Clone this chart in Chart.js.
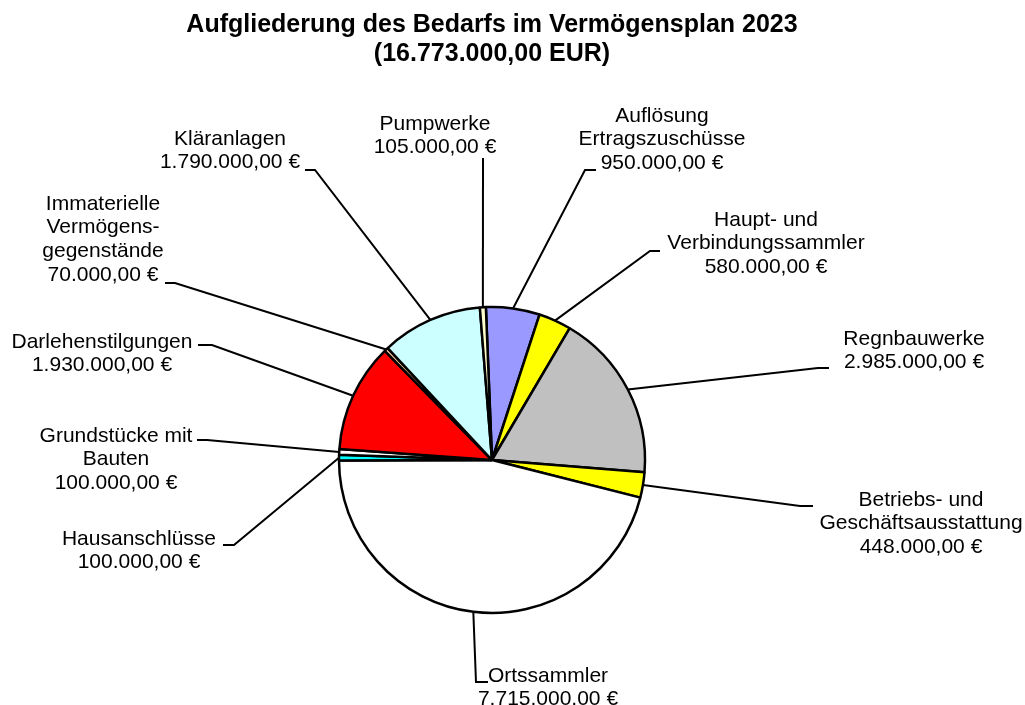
<!DOCTYPE html>
<html>
<head>
<meta charset="utf-8">
<script src="https://cdn.jsdelivr.net/npm/chart.js@4.4.0/dist/chart.umd.min.js"></script>
<style>
  html, body { margin: 0; padding: 0; background: #fff; }
</style>
</head>
<body>
<canvas id="pieChart" width="1025" height="705"></canvas>
<script>
// data, in slice order (clockwise from the top)
let categories = [
  "Auflösung\nErtragszuschüsse",
  "Haupt- und\nVerbindungssammler",
  "Regnbauwerke",
  "Betriebs- und\nGeschäftsausstattung",
  "Ortssammler",
  "Hausanschlüsse",
  "Grundstücke mit\nBauten",
  "Darlehenstilgungen",
  "Immaterielle\nVermögens-\ngegenstände",
  "Kläranlagen",
  "Pumpwerke"
];
let amounts = [950000, 580000, 2985000, 448000, 7715000, 100000, 100000, 1930000, 70000, 1790000, 105000];
let sliceColors = ["#9999FF", "#FFFF00", "#C0C0C0", "#FFFF00", "#FFFFFF", "#00FFFF", "#FFFFFF", "#FF0000", "#FFCC99", "#CCFFFF", "#FFFFCC"];
let titleLines = ["Aufgliederung des Bedarfs im Vermögensplan 2023", "(16.773.000,00 EUR)"];

// where each label sits and how its leader line bends (elbow, then end at the label)
let labelPos = [
  { x: 662, y: 116, path: [[585, 170], [596, 170]] },
  { x: 766, y: 220, path: [[650, 251], [660, 251]] },
  { x: 914, y: 339, path: [[818, 368], [829, 368]] },
  { x: 921, y: 500, path: [[800, 506], [813, 506]] },
  { x: 548, y: 676, path: [[476, 682], [488, 682]] },
  { x: 139, y: 539, path: [[234, 545], [223, 545]] },
  { x: 116, y: 436, path: [[207, 440], [197, 440]] },
  { x: 102, y: 342, path: [[212, 345], [198, 345]] },
  { x: 103, y: 204, path: [[175, 283], [165, 283]] },
  { x: 230, y: 139, path: [[315, 170], [305, 170]] },
  { x: 435, y: 124, path: [[483, 158]] }
];

function euro(v) {
  let s = String(Math.round(v)).replace(/\B(?=(\d{3})+(?!\d))/g, ".");
  return s + ",00 €";
}

// labels with leader lines
const leaderLabels = {
  id: "leaderLabels",
  afterDatasetsDraw(chart) {
    let ctx = chart.ctx;
    let arcs = chart.getDatasetMeta(0).data;
    ctx.save();
    arcs.forEach((arc, i) => {
      let p = arc.getProps(["x", "y", "startAngle", "endAngle", "outerRadius"]);
      let mid = (p.startAngle + p.endAngle) / 2;
      let ax = p.x + Math.cos(mid) * p.outerRadius;
      let ay = p.y + Math.sin(mid) * p.outerRadius;
      let pos = labelPos[i];

      ctx.beginPath();
      ctx.moveTo(ax, ay);
      pos.path.forEach(pt => ctx.lineTo(pt[0], pt[1]));
      ctx.strokeStyle = "#000";
      ctx.lineWidth = 2;
      ctx.stroke();

      let lines = categories[i].split("\n").concat(euro(amounts[i]));
      ctx.font = '21px "Liberation Sans", Arial, sans-serif';
      ctx.fillStyle = "#000";
      ctx.textAlign = "center";
      ctx.textBaseline = "middle";
      lines.forEach((t, k) => ctx.fillText(t, pos.x, pos.y + k * 23.7));
    });
    ctx.restore();
  }
};

new Chart(document.getElementById("pieChart"), {
  type: "pie",
  data: {
    labels: categories,
    datasets: [{
      data: amounts,
      backgroundColor: sliceColors,
      borderColor: "#000",
      borderWidth: 2.5
    }]
  },
  options: {
    responsive: false,
    animation: false,
    rotation: -2.3,
    radius: 153,
    layout: { padding: { left: 0, right: 41, top: 0, bottom: 92 } },
    plugins: {
      legend: { display: false },
      tooltip: { enabled: false },
      title: {
        display: true,
        text: titleLines,
        color: "#000",
        font: { family: '"Liberation Sans", Arial, sans-serif', size: 25, weight: "bold", lineHeight: 1.16 },
        padding: { top: 11, bottom: 238 }
      }
    }
  },
  plugins: [leaderLabels]
});
</script>
</body>
</html>
